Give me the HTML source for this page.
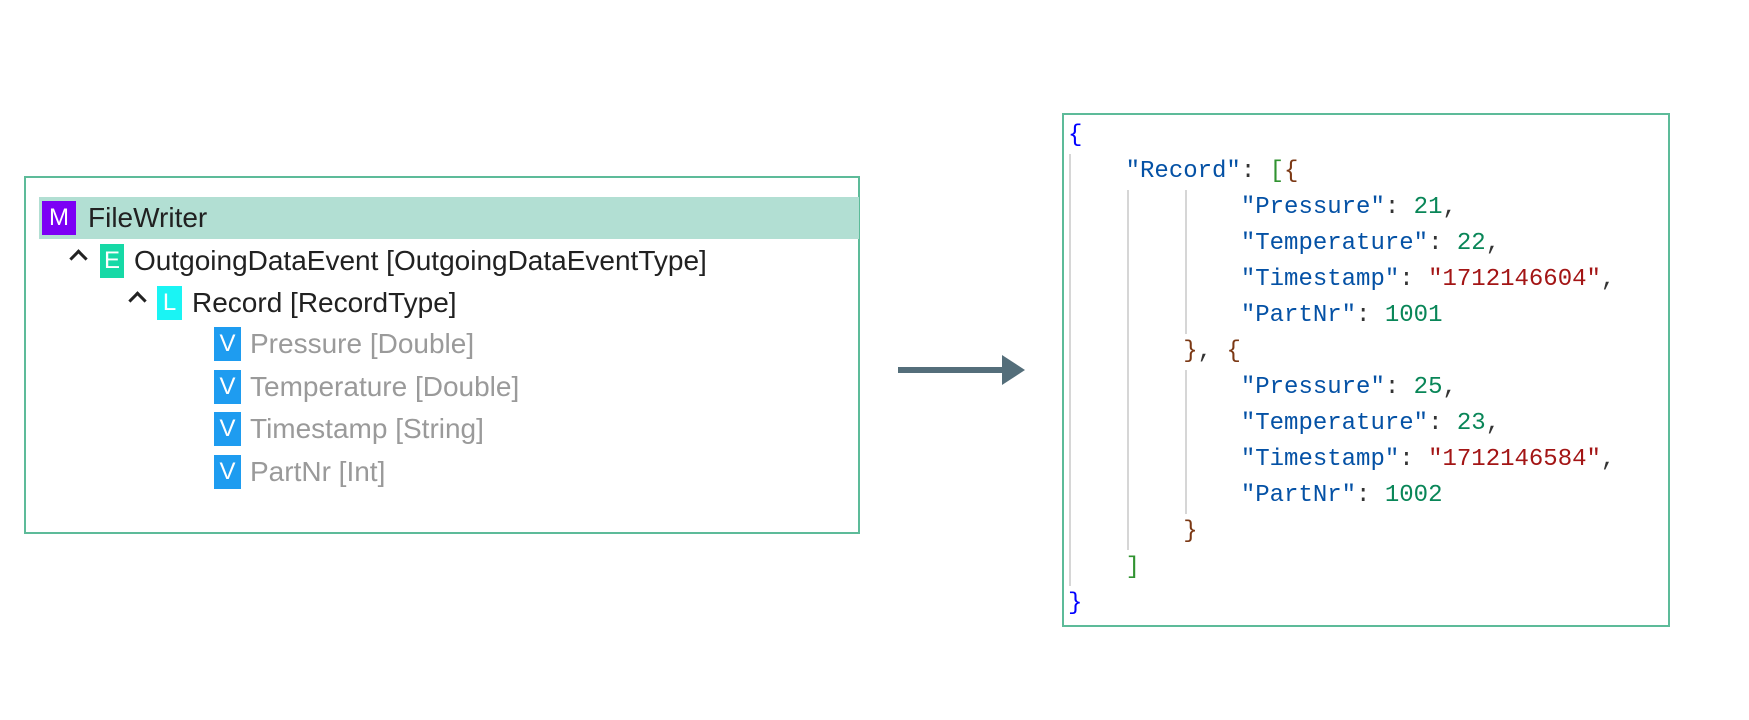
<!DOCTYPE html>
<html><head><meta charset="utf-8"><style>
body{margin:0;width:1749px;height:720px;background:#fff;position:relative;overflow:hidden;font-family:"Liberation Sans",sans-serif}
.a{position:absolute}
.box{position:absolute;border:2px solid #5dbb99;box-sizing:border-box}
.t{position:absolute;font-size:28px;line-height:34px;color:#212121;white-space:nowrap}
.g{color:#9a9a9a;font-weight:300}
.ic{position:absolute;height:34px;color:#fff;font-size:24px;line-height:34px;text-align:center}
.car{position:absolute;width:10px;height:10px;border-left:3px solid #222;border-top:3px solid #222;transform:rotate(45deg)}
.j{position:absolute;left:1068px;font-family:"Liberation Mono",monospace;font-size:24px;line-height:36px;white-space:pre;color:#0451a5}
.n{color:#098658}.s{color:#a31515}.b{color:#0000ff}.gr{color:#319331}.br{color:#7b3814}.k{color:#0451a5}.p{color:#333}
.v{position:absolute;width:2px;background:#d6d6d6}
</style></head><body>
<div class="box" style="left:24px;top:176px;width:836px;height:358px"></div>
<div class="a" style="left:39px;top:197px;width:820px;height:42px;background:#b2dfd3"></div>
<div class="ic" style="left:42px;top:201px;width:34px;background:#7c00f5">M</div>
<div class="t" style="left:88px;top:201px">FileWriter</div>
<div class="car" style="left:72px;top:252px"></div>
<div class="ic" style="left:100px;top:244px;width:24px;background:#16d9a6">E</div>
<div class="t" style="left:134px;top:244px">OutgoingDataEvent [OutgoingDataEventType]</div>
<div class="car" style="left:131px;top:294px"></div>
<div class="ic" style="left:157px;top:286px;width:25px;background:#1af4f4">L</div>
<div class="t" style="left:192px;top:286px">Record [RecordType]</div>
<div class="ic" style="left:214px;top:327px;width:27px;background:#1e9cf0">V</div>
<div class="t g" style="left:250px;top:327px">Pressure [Double]</div>
<div class="ic" style="left:214px;top:370px;width:27px;background:#1e9cf0">V</div>
<div class="t g" style="left:250px;top:370px">Temperature [Double]</div>
<div class="ic" style="left:214px;top:412px;width:27px;background:#1e9cf0">V</div>
<div class="t g" style="left:250px;top:412px">Timestamp [String]</div>
<div class="ic" style="left:214px;top:455px;width:27px;background:#1e9cf0">V</div>
<div class="t g" style="left:250px;top:455px">PartNr [Int]</div>

<svg class="a" style="left:0;top:0" width="1749" height="720"><path d="M898 367h104v-12l23 15-23 15v-12h-104z" fill="#546e7a"/></svg>

<div class="box" style="left:1062px;top:113px;width:608px;height:514px"></div>
<div class="v" style="left:1069px;top:154px;height:432px"></div>
<div class="v" style="left:1127px;top:190px;height:360px"></div>
<div class="v" style="left:1185px;top:190px;height:144px"></div>
<div class="v" style="left:1185px;top:370px;height:144px"></div>
<div class="j" style="top:118px"><span class="b">{</span>
    <span class="k">"Record"</span><span class="p">: </span><span class="gr">[</span><span class="br">{</span>
            "Pressure"<span class="p">: </span><span class="n">21</span><span class="p">,</span>
            "Temperature"<span class="p">: </span><span class="n">22</span><span class="p">,</span>
            "Timestamp"<span class="p">: </span><span class="s">"1712146604"</span><span class="p">,</span>
            "PartNr"<span class="p">: </span><span class="n">1001</span>
        <span class="br">}</span><span class="p">, </span><span class="br">{</span>
            "Pressure"<span class="p">: </span><span class="n">25</span><span class="p">,</span>
            "Temperature"<span class="p">: </span><span class="n">23</span><span class="p">,</span>
            "Timestamp"<span class="p">: </span><span class="s">"1712146584"</span><span class="p">,</span>
            "PartNr"<span class="p">: </span><span class="n">1002</span>
        <span class="br">}</span>
    <span class="gr">]</span>
<span class="b">}</span></div>
</body></html>
